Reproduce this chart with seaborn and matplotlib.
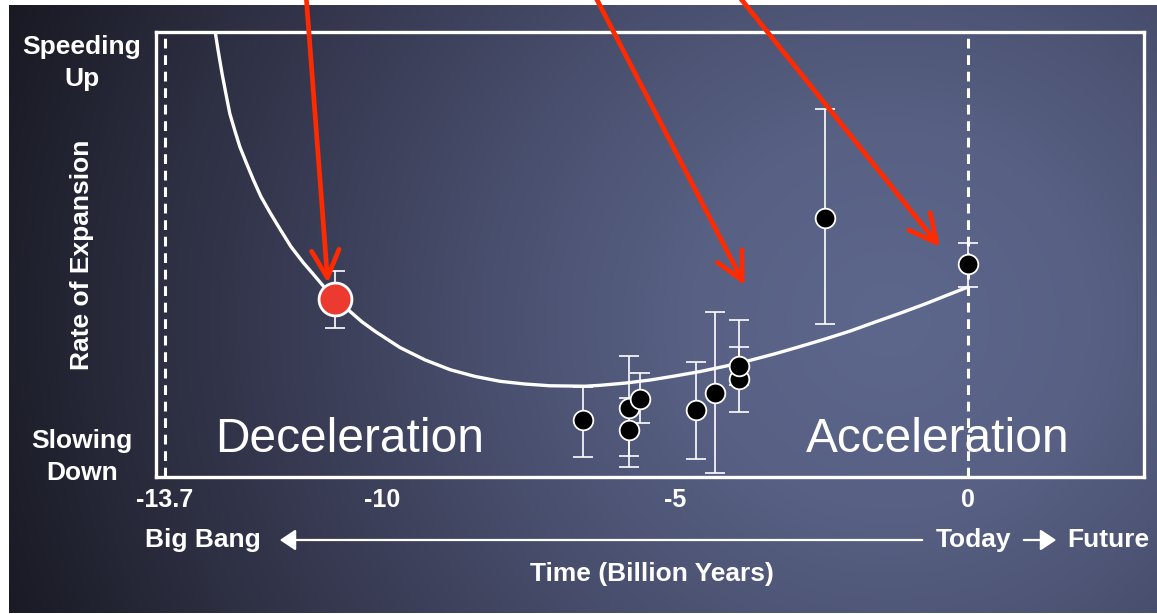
import numpy as np
import matplotlib
matplotlib.use("Agg")
import matplotlib.pyplot as plt
import seaborn as sns

# Supernova measurements: time (billion years) and expansion-rate index
red_x = [-10.8]
red_y = [4.0]
red_lo = [3.35]
red_hi = [4.63]

sn_x = [-6.57, -5.78, -5.78, -5.60, -4.64, -4.32, -3.91, -3.91, -2.44, 0.0]
sn_y = [1.28, 1.55, 1.06, 1.75, 1.51, 1.89, 2.20, 2.49, 5.82, 4.79]
sn_lo = [0.45, 0.47, 0.22, 1.21, 0.40, 0.09, 1.46, 2.07, 3.44, 4.27]
sn_hi = [2.02, 2.72, 1.78, 2.34, 2.58, 3.71, 3.53, 2.92, 8.27, 5.26]

# Model expansion-rate curve
curve_x = [-12.84, -12.79, -12.72, -12.65, -12.59, -12.50, -12.42, -12.31, -12.19,
           -12.06, -11.90, -11.73, -11.55, -11.34, -11.15, -10.97, -10.76, -10.54,
           -10.34, -10.11, -9.69, -9.26, -8.83, -8.41, -7.98, -7.56, -7.13, -6.53,
           -6.28, -5.85, -5.42, -5.00, -4.57, -4.14, -3.72, -3.29, -2.87, -2.44,
           -2.01, -1.59, -1.16, -0.73, -0.31, 0.0]
curve_y = [10.0, 9.58, 9.04, 8.56, 8.16, 7.76, 7.42, 7.06, 6.68,
           6.30, 5.93, 5.56, 5.18, 4.82, 4.53, 4.25, 3.98, 3.72,
           3.49, 3.27, 2.91, 2.63, 2.41, 2.26, 2.15, 2.09, 2.05, 2.04,
           2.06, 2.11, 2.18, 2.27, 2.37, 2.49, 2.62, 2.77, 2.93, 3.10,
           3.28, 3.48, 3.68, 3.89, 4.11, 4.27]

tick_vals = [-13.7, -10, -5, 0]
tick_labels = ["-13.7", "-10", "-5", "0"]

sns.set_theme(style="white")
plt.rcParams["font.family"] = ["Liberation Sans", "DejaVu Sans"]

W, H = 1157, 614
fig = plt.figure(figsize=(W / 100, H / 100), dpi=100, facecolor="white")

# Radial gradient backdrop
bg = fig.add_axes([9 / W, 1 / H, (W - 9) / W, 608 / H])
bg.set_axis_off()
px = np.arange(9, W)
py = np.arange(5, 613)
X, Y = np.meshgrid(px, py)
d = np.sqrt(((X - 890) / 1.0) ** 2 + ((Y - 320) / 0.95) ** 2)
stops = [0, 200, 400, 600, 750, 900, 1050]
cols = np.array([(93, 103, 140), (88, 97, 132), (73, 79, 110), (56, 59, 83),
                 (43, 45, 63), (28, 29, 40), (16, 16, 23)]) / 255.0
img = np.dstack([np.interp(d, stops, cols[:, k]) for k in range(3)])
bg.imshow(img, aspect="auto", extent=(0, 1, 0, 1), origin="upper")
bg.set_xlim(0, 1)
bg.set_ylim(0, 1)

ax = fig.add_axes([156 / W, (H - 477) / H, (1144 - 156) / W, (477 - 32) / H])
ax.set_facecolor("none")
ax.set_xlim(-13.85, 3.0)
ax.set_ylim(0, 10)
for s in ax.spines.values():
    s.set_color("white")
    s.set_linewidth(2.4)

# Reference lines for the Big Bang and today
for xv in (-13.7, 0):
    ax.axvline(xv, color="white", lw=2.2, ls=(0, (3.2, 2.2)), zorder=1)

sns.lineplot(x=curve_x, y=curve_y, ax=ax, color="white", lw=2.4,
             sort=False, estimator=None, zorder=2)

# Error bars
sx = np.array(sn_x)
sy = np.array(sn_y)
ax.errorbar(sx, sy, yerr=[sy - np.array(sn_lo), np.array(sn_hi) - sy], fmt="none",
            ecolor="white", elinewidth=1.2, capsize=7, capthick=1.2, zorder=3)
rx = np.array(red_x)
ry = np.array(red_y)
ax.errorbar(rx, ry, yerr=[ry - np.array(red_lo), np.array(red_hi) - ry], fmt="none",
            ecolor="white", elinewidth=1.2, capsize=7, capthick=1.2, zorder=3)

sns.scatterplot(x=sn_x, y=sn_y, ax=ax, color="black", s=200, edgecolor="white",
                linewidth=1.3, zorder=4)
sns.scatterplot(x=red_x, y=red_y, ax=ax, color="#ec3a30", s=560, edgecolor="white",
                linewidth=2.0, zorder=4)

ax.set_xticks(tick_vals)
ax.set_xticklabels(tick_labels, fontweight="bold", fontsize=18, color="white")
ax.set_yticks([])
ax.tick_params(axis="x", direction="in", length=6, width=1.2, color="white", pad=8)
ax.set_xlabel("")
ax.set_ylabel("")

ax.text(0.06, 0.085, "Deceleration", transform=ax.transAxes, color="white",
        fontsize=34.5, ha="left", va="center")
ax.text(0.658, 0.085, "Acceleration", transform=ax.transAxes, color="white",
        fontsize=34.5, ha="left", va="center")

def ftext(x, y, s, **kw):
    fig.text(x / W, 1 - y / H, s, color="white", fontweight="bold",
             ha="center", va="center", **kw)

ftext(82, 63, "Speeding\nUp", fontsize=19, linespacing=1.38)
ftext(82, 457, "Slowing\nDown", fontsize=19, linespacing=1.38)
ftext(82, 255, "Rate of Expansion", fontsize=19, rotation=90)
ftext(203, 540, "Big Bang", fontsize=19)
ftext(973, 540, "Today", fontsize=19)
ftext(1108, 540, "Future", fontsize=19)
ftext(652, 574, "Time (Billion Years)", fontsize=19)

# Time direction arrows under the axis
fig.patches.append(matplotlib.patches.FancyArrowPatch(
    (925 / W, 1 - 540 / H), (277 / W, 1 - 540 / H), transform=fig.transFigure,
    arrowstyle="-|>,head_length=0.6,head_width=0.4", mutation_scale=16,
    color="white", lw=1.6))
fig.patches.append(matplotlib.patches.FancyArrowPatch(
    (1021 / W, 1 - 540 / H), (1059 / W, 1 - 540 / H), transform=fig.transFigure,
    arrowstyle="-|>,head_length=0.6,head_width=0.4", mutation_scale=16,
    color="white", lw=1.6))

# Red pointers to the highlighted measurements
arrow_targets = [(-10.92, 4.36), (-3.81, 4.31), (-0.48, 5.17)]
arrow_starts = [(306, H + 6), (594, H + 6), (737, H + 6)]
for (tx, ty), (fx, fy) in zip(arrow_targets, arrow_starts):
    ax.annotate("", xy=(tx, ty), xycoords="data", xytext=(fx, fy),
                textcoords="figure pixels", annotation_clip=False,
                arrowprops=dict(arrowstyle="->,head_length=0.9,head_width=0.45",
                                mutation_scale=22, color="#ff2a00", lw=3.4,
                                shrinkA=0, shrinkB=0), zorder=10)

fig.savefig("out.png", dpi=100, facecolor="white")
